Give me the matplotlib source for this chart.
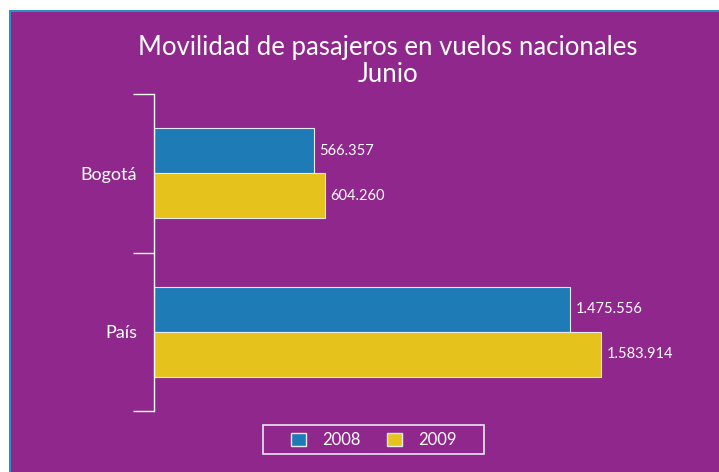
import matplotlib.pyplot as plt
from matplotlib.patches import Rectangle, Patch

plt.rcParams['font.family'] = ['Lato', 'DejaVu Sans']

categorias = ['País', 'Bogotá']
anios = ['2008', '2009']
valores_2008 = [1475556, 566357]
valores_2009 = [1583914, 604260]
colores = ['#1f7bb6', '#e6c31c']
morado = '#90278c'

def formato(v):
    return f'{v:,}'.replace(',', '.')

fig = plt.figure(figsize=(7.19, 4.72), dpi=100)
fig.patch.set_facecolor('white')
# fondo morado con borde azul arriba y a la izquierda
fig.patches.append(Rectangle((9 / 719, 0), 1, 1 - 10 / 472, transform=fig.transFigure,
                             facecolor='#2a8fc4', edgecolor='none', zorder=-10))
fig.patches.append(Rectangle((11 / 719, 0), 1, 1 - 12 / 472, transform=fig.transFigure,
                             facecolor=morado, edgecolor='none', zorder=-9))

ax = fig.add_axes([154 / 719, 1 - 411 / 472, 546 / 719, 317 / 472])
ax.set_facecolor('none')

alto = 0.284
pos = list(range(len(categorias)))
b1 = ax.barh([p + alto / 2 for p in pos], valores_2008, height=alto, color=colores[0],
             edgecolor='#e8e8f0', linewidth=0.8)
b2 = ax.barh([p - alto / 2 for p in pos], valores_2009, height=alto, color=colores[1],
             edgecolor='#e8e8f0', linewidth=0.8)

for barras, vals in ((b1, valores_2008), (b2, valores_2009)):
    for b, v in zip(barras, vals):
        ax.text(b.get_width() + 20000, b.get_y() + b.get_height() / 2, formato(v),
                va='center', ha='left', color='white', fontsize=10.5)

ax.set_xlim(0, 546 / (447 / 1583914))
ax.set_ylim(-0.5, 1.5)
ax.set_yticks(pos)
ax.set_yticklabels(categorias, color='white', fontsize=13)
ax.tick_params(axis='y', which='major', length=0, pad=12)
ax.set_yticks([-0.5, 0.5, 1.5], minor=True)
ax.tick_params(axis='y', which='minor', length=15, width=1, color='white')
ax.set_xticks([])
for s in ['top', 'right', 'bottom']:
    ax.spines[s].set_visible(False)
ax.spines['left'].set_color('white')
ax.spines['left'].set_linewidth(1)

fig.text(388 / 719, 1 - 61 / 472, 'Movilidad de pasajeros en vuelos nacionales\nJunio',
         ha='center', va='center', color='white', fontsize=18.5, linespacing=1.15)

# marco de la leyenda
fig.patches.append(Rectangle((263 / 719, 1 - 454 / 472), 221 / 719, 29 / 472,
                             transform=fig.transFigure, facecolor='none',
                             edgecolor='#e8e8f0', linewidth=1.2))
handles = [Patch(facecolor=c, edgecolor='#e8e8f0', label=a) for c, a in zip(colores, anios)]
leg = fig.legend(handles=handles, loc='center', bbox_to_anchor=(374 / 719, 1 - 440 / 472),
                 ncol=2, frameon=False, fontsize=12, columnspacing=1.6,
                 handlelength=0.85, handleheight=0.85, handletextpad=1.0, borderpad=0)
for t in leg.get_texts():
    t.set_color('white')

fig.savefig('out.png', dpi=100, facecolor=fig.get_facecolor())
